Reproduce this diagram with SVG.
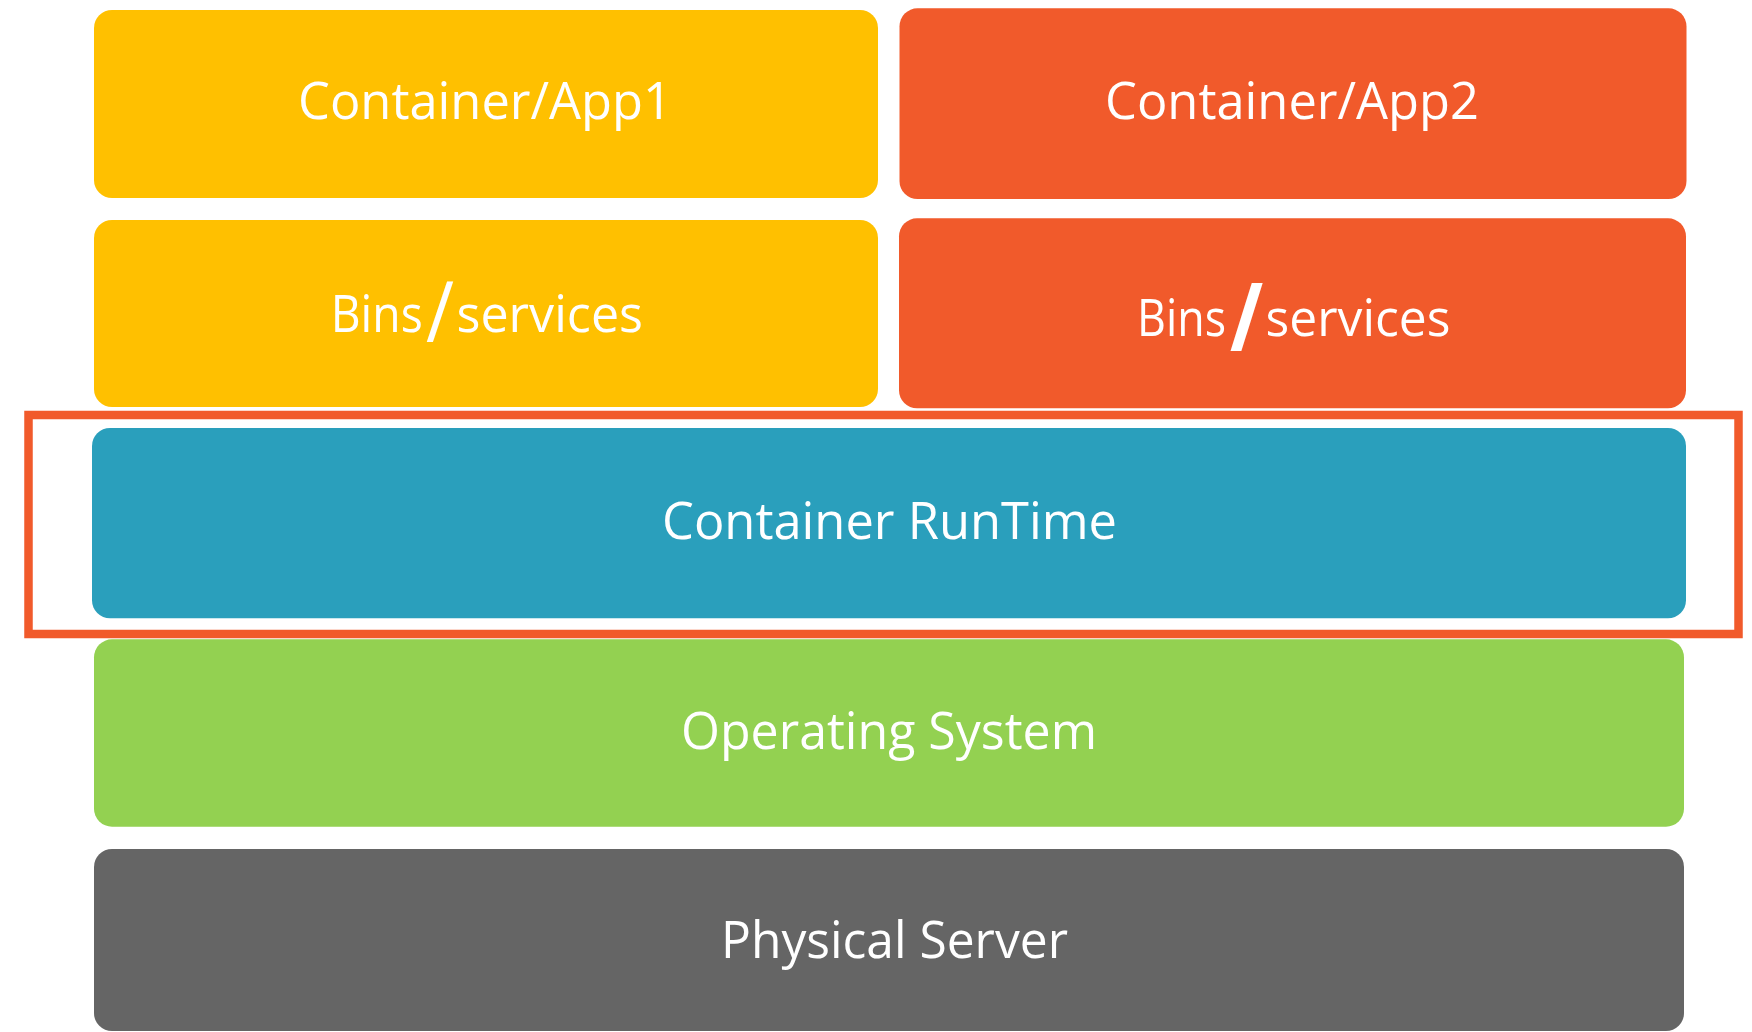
<svg xmlns="http://www.w3.org/2000/svg" width="1752" height="1032" viewBox="0 0 1752 1032">
  <style>
    .box { stroke: none; }
    .app1 { fill: #FFC000; }
    .app2 { fill: #F15A2B; }
    .runtime { fill: #2A9FBC; }
    .os { fill: #93D151; }
    .hw { fill: #656565; }
    .lbl { fill: #FFFFFF; font-family: "Open Sans", "Noto Sans", sans-serif; font-size: 52px; }
    .frame { fill: none; stroke: #F15A2B; stroke-width: 8.5; }
  </style>

  <rect width="1752" height="1032" fill="#FFFFFF"/>

  <!-- application containers -->
  <g id="app1">
    <rect class="box app1" x="94" y="10" width="784" height="188" rx="18" ry="18"/>
    <text class="lbl" x="298" y="119.3" textLength="374" lengthAdjust="spacingAndGlyphs">Container/App1</text>
  </g>
  <g id="app2">
    <rect class="box app2" x="899.5" y="8.3" width="787" height="190.7" rx="18" ry="18"/>
    <text class="lbl" x="1105" y="119.3" textLength="374" lengthAdjust="spacingAndGlyphs">Container/App2</text>
  </g>

  <!-- bins / services per container -->
  <g id="bins1">
    <rect class="box app1" x="94" y="220" width="784" height="187" rx="18" ry="18"/>
    <text class="lbl" x="330.7" y="332.3" textLength="92" lengthAdjust="spacingAndGlyphs">Bins</text>
    <text class="lbl" x="426" y="342.3" style="font-size:85px" textLength="28" lengthAdjust="spacingAndGlyphs">/</text>
    <text class="lbl" x="456.5" y="332.3" textLength="186.5" lengthAdjust="spacingAndGlyphs">services</text>
  </g>
  <g id="bins2">
    <rect class="box app2" x="899" y="218.3" width="787" height="190" rx="18" ry="18"/>
    <text class="lbl" x="1137" y="335.7" textLength="89" lengthAdjust="spacingAndGlyphs">Bins</text>
    <text class="lbl" x="1230" y="351" style="font-size:95px;font-weight:bold" textLength="33" lengthAdjust="spacingAndGlyphs">/</text>
    <text class="lbl" x="1265.5" y="335.7" textLength="185" lengthAdjust="spacingAndGlyphs">services</text>
  </g>

  <!-- container runtime layer -->
  <g id="runtime">
    <rect class="box runtime" x="92" y="428" width="1594" height="190.3" rx="18" ry="18"/>
    <text class="lbl" x="662" y="539.3" textLength="455" lengthAdjust="spacingAndGlyphs">Container RunTime</text>
  </g>

  <!-- highlight frame around the runtime layer -->
  <g id="highlight">
    <rect class="frame" x="28.5" y="415" width="1710" height="219"/>
  </g>

  <!-- host layers -->
  <g id="os">
    <rect class="box os" x="94" y="639.3" width="1590" height="187.4" rx="18" ry="18"/>
    <text class="lbl" x="681" y="749.3" textLength="416" lengthAdjust="spacingAndGlyphs">Operating System</text>
  </g>
  <g id="server">
    <rect class="box hw" x="94" y="849" width="1590" height="182" rx="18" ry="18"/>
    <text class="lbl" x="721" y="957.7" textLength="347" lengthAdjust="spacingAndGlyphs">Physical Server</text>
  </g>

  <g id="connectors"/>
</svg>
